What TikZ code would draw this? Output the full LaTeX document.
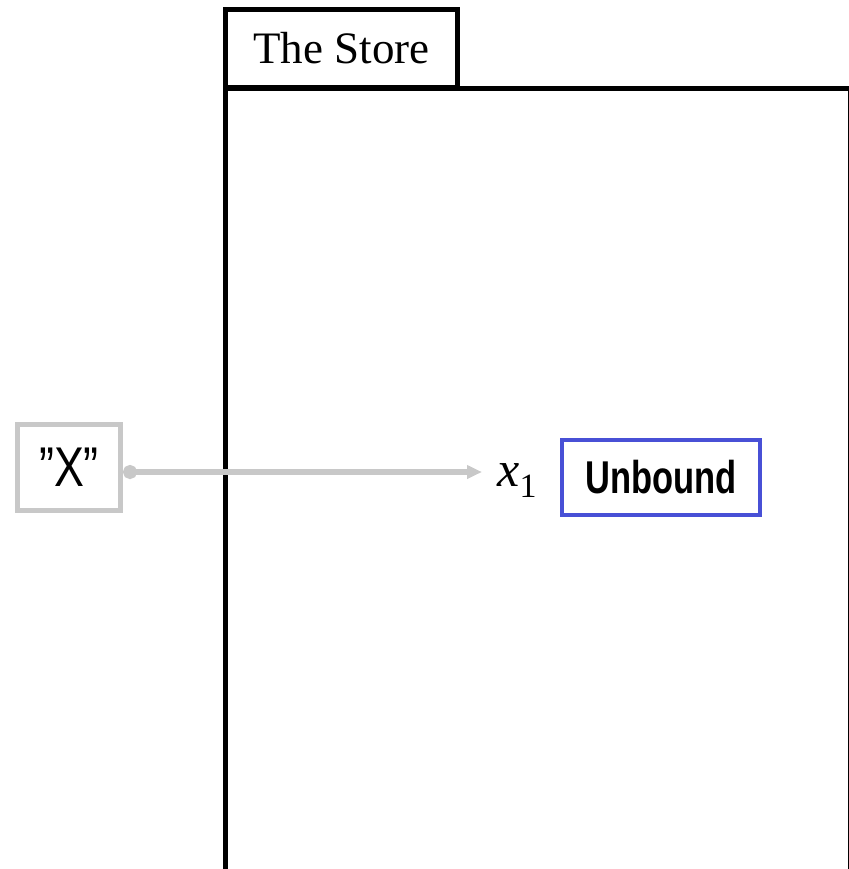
\documentclass[tikz,border=0pt]{standalone}
\usepackage{fontspec}
\usepackage{graphicx}
\setmainfont{Liberation Serif}
\setsansfont{Liberation Sans}
\usetikzlibrary{arrows.meta}
\definecolor{namegray}{RGB}{200,200,200}
\definecolor{valblue}{RGB}{72,80,214}
\tikzset{
    every node/.style={inner sep=0pt}
}
\tikzset{
    tab/.style={draw, line width=2.5pt, minimum width=116pt, minimum height=39pt,
        font=\fontsize{22.5}{27}\selectfont},
    namebox/.style={draw=namegray, line width=2.5pt, minimum width=51.5pt,
        minimum height=43pt, font=\sffamily\fontsize{28}{32}\selectfont},
    valbox/.style={draw=valblue, line width=2pt, minimum width=99pt,
        minimum height=37.5pt, font=\sffamily\bfseries\fontsize{23}{26}\selectfont},
    ref/.style={draw=namegray, line width=2.6pt,
        {Circle[length=7pt]}-{Triangle[length=7.5pt,width=6.5pt]}}
}

\begin{document}
\begin{tikzpicture}[x=0.5pt, y=-0.5pt]
	\useasboundingbox (0,0) rectangle (849,869);
	\clip (0,0) rectangle (849,869);
	% the store
	\draw[line width=2.5pt] (225.5,890) -- (225.5,88) -- (850,88) -- (850,890);
	\node (tab) [tab] at (341.5,48.5) {The Store};

	\node (name) [namebox] at (69,467.5) {\scalebox{0.8}[1]{”X”}};
	\node (x1) [anchor=base west, font=\fontsize{25}{30}\selectfont] at (497,486)
		{\textit{x}\raisebox{-5.5pt}{\fontsize{17}{20}\selectfont 1}};
	\node (val) [valbox] at (661,477.5) {\scalebox{0.75}[1]{Unbound}};

	\coordinate (tail) at ([xshift=0pt,yshift=-2.25pt]name.east);
	\draw[ref, shorten >=7.5pt] (tail) -- (tail -| x1.west);
\end{tikzpicture}
\end{document}
